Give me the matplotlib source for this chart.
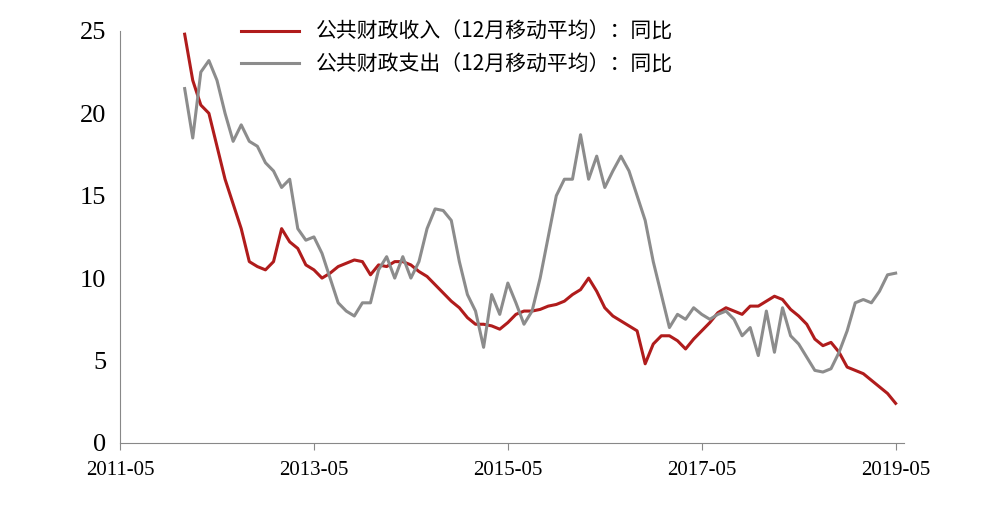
import matplotlib
matplotlib.use("Agg")
import matplotlib.pyplot as plt
import numpy as np

tick_labels = ["2011-05", "2013-05", "2015-05", "2017-05", "2019-05"]
start_offset = 8  # first data month 2012-01, months after 2011-05

revenue = [24.8, 22, 20.5, 20, 18, 16, 14.5, 13, 11, 10.7, 10.5, 11,
           13, 12.2, 11.8, 10.8, 10.5, 10, 10.3, 10.7, 10.9, 11.1, 11, 10.2,
           10.8, 10.7, 11, 11, 10.8, 10.4, 10.1, 9.6, 9.1, 8.6, 8.2, 7.6,
           7.2, 7.2, 7.1, 6.9, 7.3, 7.8, 8.0, 8.0, 8.1, 8.3, 8.4, 8.6,
           9.0, 9.3, 10.0, 9.2, 8.2, 7.7, 7.4, 7.1, 6.8, 4.8, 6.0, 6.5,
           6.5, 6.2, 5.7, 6.3, 6.8, 7.3, 7.9, 8.2, 8.0, 7.8, 8.3, 8.3,
           8.6, 8.9, 8.7, 8.1, 7.7, 7.2, 6.3, 5.9, 6.1, 5.5, 4.6, 4.4,
           4.2, 3.8, 3.4, 3.0, 2.4]
expenditure = [21.5, 18.5, 22.5, 23.2, 22, 20, 18.3, 19.3, 18.3, 18, 17, 16.5,
               15.5, 16, 13, 12.3, 12.5, 11.5, 10, 8.5, 8, 7.7, 8.5, 8.5,
               10.5, 11.3, 10, 11.3, 10, 11, 13, 14.2, 14.1, 13.5, 11, 9,
               8, 5.8, 9, 7.8, 9.7, 8.5, 7.2, 8, 10, 12.5, 15, 16,
               16, 18.7, 16, 17.4, 15.5, 16.5, 17.4, 16.5, 15, 13.5, 11, 9,
               7, 7.8, 7.5, 8.2, 7.8, 7.5, 7.8, 8, 7.5, 6.5, 7, 5.3,
               8, 5.5, 8.2, 6.5, 6, 5.2, 4.4, 4.3, 4.5, 5.5, 6.8, 8.5,
               8.7, 8.5, 9.2, 10.2, 10.3]

x = np.arange(len(revenue)) + start_offset

fig = plt.figure(figsize=(9.92, 5.15), dpi=100)
ax = fig.add_axes([0.121, 0.14, 0.79, 0.80])
ax.plot(x, revenue, color="#b01c1c", lw=2.2, label="公共财政收入（12月移动平均）：同比")
ax.plot(x, expenditure, color="#8c8c8c", lw=2.2, label="公共财政支出（12月移动平均）：同比")
ax.set_xlim(0, 97)
ax.set_ylim(0, 25)
ax.set_xticks([0, 24, 48, 72, 96])
ax.set_xticklabels(tick_labels, fontfamily="Liberation Serif", fontsize=15)
ax.set_yticks([0, 5, 10, 15, 20, 25])
ax.set_yticklabels(["0", "5", "10", "15", "20", "25"], fontfamily="Liberation Serif", fontsize=19)
for s in ["top", "right"]:
    ax.spines[s].set_visible(False)
for s in ["left", "bottom"]:
    ax.spines[s].set_color("#888888")
ax.tick_params(axis="x", direction="out", length=5, color="#888888", pad=8)
ax.tick_params(axis="y", length=0, pad=10)
leg = ax.legend(loc="upper left", bbox_to_anchor=(0.13, 1.07), frameon=False,
                prop={"family": ["Noto Sans CJK SC", "DejaVu Sans"], "size": 15},
                handlelength=2.8, labelspacing=0.5)
fig.savefig("out.png", dpi=100)
